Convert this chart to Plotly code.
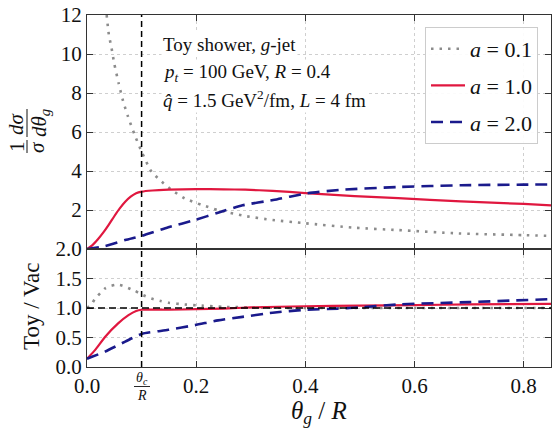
import plotly.graph_objects as go

# ---------------- data ----------------
theta_c_over_R = 0.1

x_ticks = [0.0, 0.2, 0.4, 0.6, 0.8]
x_tick_labels = ["0.0", "0.2", "0.4", "0.6", "0.8"]
y_top_ticks = [2, 4, 6, 8, 10, 12]
y_bot_ticks = [0.0, 0.5, 1.0, 1.5, 2.0]
y_bot_labels = ["0.0", "0.5", "1.0", "1.5", "2.0"]

legend_names = ["<i>a</i> = 0.1", "<i>a</i> = 1.0", "<i>a</i> = 2.0"]

# top panel: 1/sigma dsigma/dtheta_g
x_a01 = [0.036, 0.04, 0.045, 0.05, 0.058, 0.066, 0.075, 0.088, 0.1, 0.118, 0.137,
         0.155, 0.179, 0.21, 0.24, 0.29, 0.34, 0.4, 0.49, 0.57, 0.68, 0.8, 0.85]
y_a01 = [12.0, 11.0, 10.3, 9.5, 8.5, 7.6, 6.8, 5.8, 5.0, 3.97, 3.45,
         3.03, 2.6, 2.26, 2.0, 1.69, 1.49, 1.32, 1.09, 0.97, 0.8, 0.71, 0.67]

x_a10 = [0.0, 0.01, 0.02, 0.03, 0.04, 0.05, 0.06, 0.07, 0.08, 0.09, 0.1, 0.12, 0.15,
         0.2, 0.25, 0.29, 0.34, 0.4, 0.49, 0.57, 0.685, 0.8, 0.85]
y_a10 = [0.0, 0.2, 0.5, 0.85, 1.25, 1.68, 2.08, 2.42, 2.68, 2.86, 2.94, 3.0, 3.04,
         3.07, 3.06, 3.04, 2.98, 2.87, 2.71, 2.61, 2.44, 2.31, 2.24]

x_a20 = [0.0, 0.033, 0.07, 0.1, 0.149, 0.198, 0.24, 0.285, 0.341, 0.402, 0.463,
         0.5725, 0.685, 0.8, 0.85]
y_a20 = [0.0, 0.15, 0.46, 0.67, 1.11, 1.49, 1.86, 2.24, 2.51, 2.85, 3.03,
         3.18, 3.27, 3.3, 3.31]

# bottom panel: Toy / Vac
xr_a01 = [0.0, 0.008, 0.015, 0.025, 0.033, 0.042, 0.051, 0.06, 0.07, 0.08, 0.088,
          0.1, 0.118, 0.135, 0.149, 0.179, 0.21, 0.25, 0.3, 0.4, 0.5, 0.6, 0.7, 0.85]
yr_a01 = [1.0, 1.06, 1.16, 1.26, 1.33, 1.37, 1.39, 1.39, 1.36, 1.32, 1.29,
          1.23, 1.16, 1.12, 1.09, 1.06, 1.04, 1.02, 1.01, 1.0, 1.0, 1.0, 1.0, 1.0]

xr_a10 = [0.0, 0.015, 0.033, 0.057, 0.076, 0.09, 0.1, 0.15, 0.2, 0.25, 0.3,
          0.4, 0.5, 0.6, 0.7, 0.85]
yr_a10 = [0.14, 0.29, 0.51, 0.74, 0.88, 0.95, 0.97, 0.97, 0.98, 0.99, 1.01,
          1.03, 1.04, 1.05, 1.06, 1.07]

xr_a20 = [0.0, 0.033, 0.07, 0.1, 0.149, 0.198, 0.24, 0.285, 0.34, 0.4, 0.46,
          0.5, 0.57, 0.7, 0.85]
yr_a20 = [0.14, 0.26, 0.43, 0.56, 0.63, 0.71, 0.79, 0.85, 0.92, 0.97, 0.99,
          1.01, 1.06, 1.1, 1.15]

# ---------------- style ----------------
FONT = "Liberation Serif"
C_GREY = "#8c8c8c"
C_RED = "#e0173f"
C_BLUE = "#1a1a8c"
AX = "#333333"
GRID = "#cfcfcf"

styles = [
    dict(color=C_GREY, width=2.6, dash="2.5px,6px"),
    dict(color=C_RED, width=2.2),
    dict(color=C_BLUE, width=2.6, dash="12px,7px"),
]

fig = go.Figure()
top = [(x_a01, y_a01), (x_a10, y_a10), (x_a20, y_a20)]
bot = [(xr_a01, yr_a01), (xr_a10, yr_a10), (xr_a20, yr_a20)]
for i, (xs, ys) in enumerate(top):
    fig.add_trace(go.Scatter(x=xs, y=ys, xaxis="x", yaxis="y", mode="lines",
                             line=dict(shape="spline", smoothing=0.6, **styles[i]),
                             name=legend_names[i], legendgroup=f"g{i}"))
for i, (xs, ys) in enumerate(bot):
    fig.add_trace(go.Scatter(x=xs, y=ys, xaxis="x2", yaxis="y2", mode="lines",
                             line=dict(shape="spline", smoothing=0.6, **styles[i]),
                             showlegend=False, legendgroup=f"g{i}"))

split = 118 / 352

axis_common = dict(showline=True, linecolor=AX, linewidth=1.2, mirror="ticks",
                   ticks="inside", ticklen=6, tickwidth=1, tickcolor=AX,
                   showgrid=True, gridcolor=GRID, griddash="dot", gridwidth=1,
                   zeroline=False, tickfont=dict(family=FONT, size=21, color="#111"))

fig.update_layout(
    width=552, height=430,
    margin=dict(l=87, r=1, t=15, b=63),
    plot_bgcolor="white", paper_bgcolor="white",
    showlegend=True,
    legend=dict(x=0.972, xanchor="right", y=0.966, yanchor="top",
                bgcolor="rgba(255,255,255,0.9)", bordercolor="#cccccc", borderwidth=1,
                font=dict(family=FONT, size=22, color="#111"),
                tracegroupgap=5, itemwidth=34),
    xaxis=dict(axis_common, domain=[0, 1], range=[0, 0.85], anchor="y", matches="x2",
               tickvals=x_ticks, showticklabels=False),
    xaxis2=dict(axis_common, domain=[0, 1], range=[0, 0.85], anchor="y2",
                tickvals=x_ticks, ticktext=x_tick_labels),
    yaxis=dict(axis_common, domain=[split, 1], range=[0, 12], anchor="x",
               tickvals=y_top_ticks),
    yaxis2=dict(axis_common, domain=[0, split], range=[0, 2], anchor="x2",
                tickvals=y_bot_ticks, ticktext=y_bot_labels),
)

def px2paper_x(px):
    return (px - 87) / 464

def px2paper_y(py):
    return (367 - py) / 352

def ann(text, x, y, size, xref="paper", xanchor="center", angle=0, bg=None, pad=1):
    fig.add_annotation(x=x, xref=xref, y=y, yref="paper", text=text,
                       xanchor=xanchor, yanchor="middle", textangle=angle,
                       showarrow=False, bgcolor=bg, borderpad=pad,
                       font=dict(family=FONT, size=size, color="#111"))

# reference lines
fig.add_shape(type="line", xref="x", yref="paper", x0=theta_c_over_R, x1=theta_c_over_R,
              y0=0, y1=1, line=dict(color="black", width=1.5, dash="6px,4px"))
fig.add_shape(type="line", xref="paper", yref="y2", x0=0, x1=1, y0=1.0, y1=1.0,
              line=dict(color="black", width=1.5, dash="7px,4px"))

# theta_c / R tick label as a fraction
ann("<i>θ<sub>c</sub></i>", theta_c_over_R, px2paper_y(378), 14, xref="x2", pad=0)
ann("<i>R</i>", theta_c_over_R, px2paper_y(395), 14, xref="x2", pad=0)
fig.add_shape(type="line", xref="paper", yref="paper",
              x0=px2paper_x(134), x1=px2paper_x(150), y0=px2paper_y(386.5), y1=px2paper_y(386.5),
              line=dict(color="#111", width=0.9))

# x axis title
ann("<i>θ<sub>g</sub></i> / <i>R</i>", 0.5, px2paper_y(412), 25, pad=0)

# y titles
ann("Toy / Vac", px2paper_x(31), px2paper_y(307), 23, angle=-90)
for txt, cx, cy in [("1", 17, 147), ("<i>σ</i>", 37, 147),
                    ("<i>dσ</i>", 16, 124), ("<i>dθ<sub>g</sub></i>", 40, 123)]:
    ann(txt, px2paper_x(cx), px2paper_y(cy), 21, angle=-90, pad=0)
for y0, y1 in [(140, 153), (109, 137)]:
    fig.add_shape(type="line", xref="paper", yref="paper",
                  x0=px2paper_x(27), x1=px2paper_x(27), y0=px2paper_y(y0), y1=px2paper_y(y1),
                  line=dict(color="#111", width=1.0))

# text block
info = ["Toy shower, <i>g</i>-jet",
        "<i>p<sub>t</sub></i> = 100 GeV, <i>R</i> = 0.4",
        "<i>q̂</i> = 1.5 GeV<sup>2</sup>/fm, <i>L</i> = 4 fm"]
for txt, cy in zip(info, [45, 73, 99]):
    ann(txt, px2paper_x(161), px2paper_y(cy), 19, xanchor="left", bg="white")

fig.write_html("out.html")
